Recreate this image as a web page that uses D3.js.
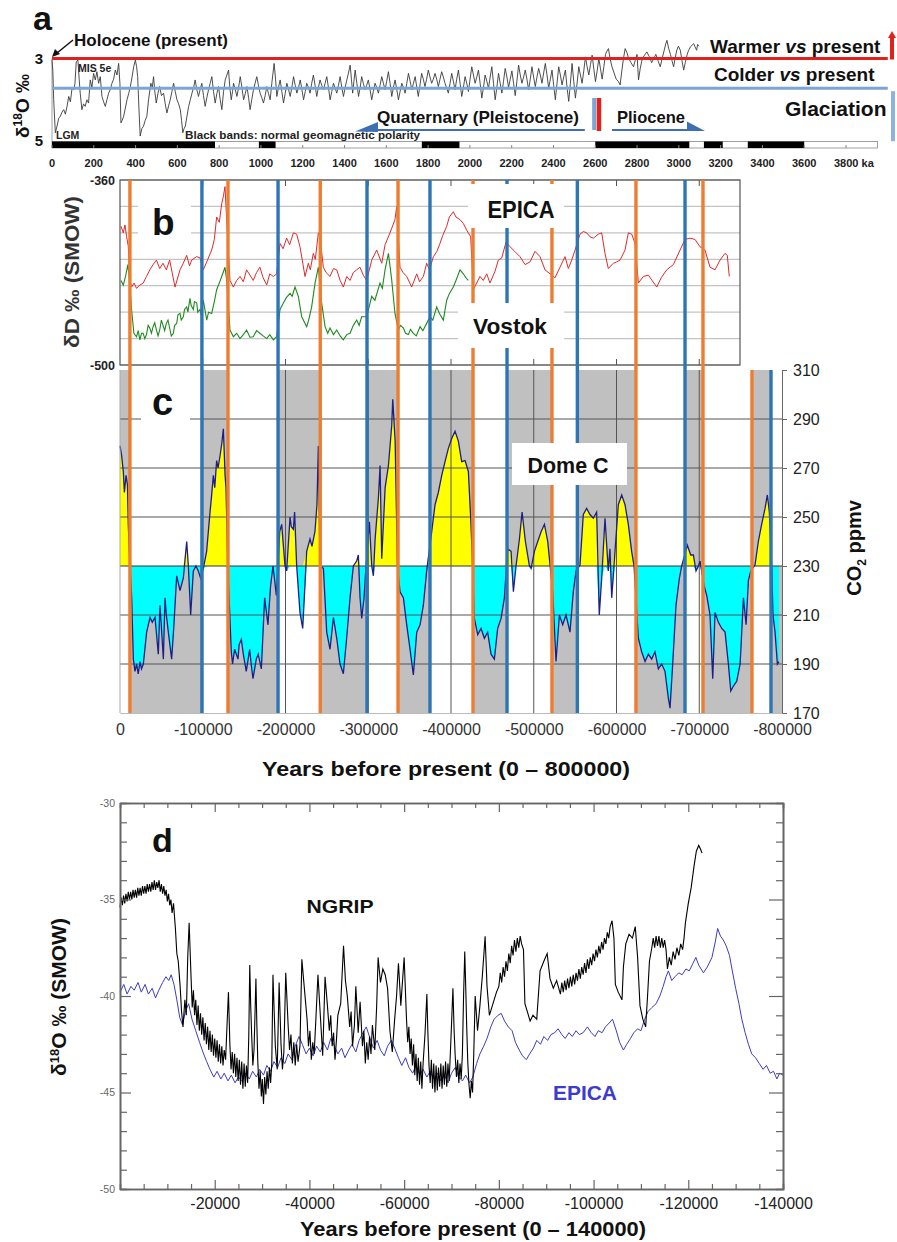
<!DOCTYPE html>
<html><head><meta charset="utf-8">
<script src="https://cdn.jsdelivr.net/npm/d3@7"></script>
<style>
body{margin:0;background:#fff}
svg{display:block}
text{font-family:"Liberation Sans",Arial,sans-serif}
</style>
</head><body>
<svg id="chart" width="897" height="1242"></svg>
<script>
// ================= DATA =================
// Panel a: benthic stack δ18O (ka, ‰)
const lr04 = [[0,3.04],[4,3.3],[8,4.0],[16,4.8],[24,4.64],[32,4.45],[40,4.4],[48,4.3],[56,4.24],[64,4.35],[72,4.16],[80,3.92],[88,4.05],[96,3.72],[104,3.76],[110,3.6],[116,3.08],[124,3.04],[130,3.5],[135,3.84],[143,4.24],[151,4.1],[159,4.16],[167,4.0],[175,4.08],[183,3.52],[191,3.7],[199,3.36],[207,3.52],[215,3.32],[223,3.6],[231,3.44],[239,3.92],[247,4.05],[255,4.16],[263,4.0],[271,3.84],[279,3.75],[287,3.6],[295,3.5],[303,3.28],[311,3.4],[319,3.12],[325,3.6],[330,4.56],[336,4.5],[343,4.4],[351,4.2],[359,4.0],[367,3.85],[375,3.68],[383,3.45],[391,3.2],[399,3.04],[405,3.2],[410,3.44],[416,4.2],[422,4.88],[430,4.7],[438,4.64],[446,4.5],[454,4.4],[462,4.0],[473,3.6],[480,3.7],[486,3.44],[492,3.8],[499,4.08],[507,3.85],[515,3.68],[524,3.9],[534,3.84],[542,4.1],[550,4.32],[558,4.15],[566,4.0],[574,3.8],[582,3.6],[590,3.8],[598,4.0],[606,4.1],[614,4.24],[620,4.5],[626,4.8],[632,4.7],[638,4.64],[646,4.4],[654,4.16],[662,4.0],[670,3.84],[678,3.7],[685,3.52],[693,3.75],[701,3.92],[709,3.75],[717,3.6],[725,3.9],[733,4.16],[741,3.95],[749,3.76],[757,3.6],[765,3.44],[773,3.8],[781,4.08],[789,3.85],[797,3.68],[805,4.0],[813,4.24],[821,3.8],[829,3.52],[837,3.4],[845,3.28],[851,3.7],[858,4.0],[864,3.8],[869,3.6],[877,3.75],[885,3.92],[893,3.7],[901,3.44],[909,3.7],[917,4.0],[925,3.85],[933,3.68],[941,3.95],[948,4.24],[956,4.0],[964,3.76],[972,3.6],[980,3.44],[988,3.65],[996,3.84],[1004,3.95],[1012,4.08],[1020,3.9],[1028,3.68],[1036,3.85],[1044,4.0],[1052,3.6],[1063,3.12],[1070,3.5],[1076,3.92],[1084,3.7],[1092,3.52],[1100,3.8],[1108,4.08],[1116,3.85],[1124,3.6],[1132,3.75],[1140,3.92],[1148,3.7],[1156,3.44],[1164,3.65],[1172,3.84],[1180,3.7],[1188,3.52],[1196,3.75],[1204,4.0],[1212,3.8],[1219,3.6],[1227,3.7],[1235,3.84],[1243,3.6],[1251,3.4],[1259,3.65],[1267,3.92],[1275,3.7],[1283,3.52],[1291,3.65],[1299,3.76],[1307,3.6],[1315,3.44],[1323,3.7],[1331,4.0],[1339,3.8],[1347,3.6],[1355,3.72],[1363,3.84],[1371,3.65],[1379,3.44],[1387,3.7],[1395,3.92],[1403,3.7],[1411,3.52],[1419,3.35],[1427,3.16],[1433,3.5],[1439,3.84],[1445,3.55],[1451,3.28],[1459,3.6],[1467,3.92],[1475,3.7],[1482,3.44],[1490,3.6],[1498,3.76],[1506,3.65],[1514,3.52],[1522,3.75],[1530,4.0],[1538,3.8],[1546,3.6],[1554,3.7],[1562,3.84],[1570,3.65],[1578,3.44],[1586,3.6],[1594,3.76],[1602,3.55],[1610,3.32],[1618,3.6],[1626,3.92],[1634,3.7],[1642,3.52],[1650,3.75],[1658,4.0],[1666,3.8],[1674,3.6],[1682,3.7],[1690,3.84],[1698,3.6],[1706,3.36],[1714,3.55],[1722,3.76],[1730,3.6],[1738,3.44],[1746,3.7],[1753,3.92],[1761,3.65],[1769,3.36],[1777,3.5],[1785,3.68],[1793,3.5],[1801,3.28],[1809,3.45],[1817,3.6],[1825,3.5],[1833,3.36],[1841,3.5],[1849,3.68],[1857,3.5],[1865,3.32],[1873,3.45],[1881,3.6],[1889,3.72],[1897,3.84],[1905,3.6],[1913,3.36],[1921,3.55],[1929,3.76],[1937,3.5],[1945,3.28],[1953,3.6],[1961,3.92],[1969,3.7],[1977,3.44],[1985,3.6],[1993,3.8],[2001,3.5],[2009,3.2],[2017,3.4],[2025,3.6],[2033,3.45],[2041,3.28],[2049,3.6],[2057,3.96],[2065,3.7],[2073,3.4],[2081,3.55],[2089,3.72],[2097,3.45],[2105,3.2],[2113,3.6],[2121,4.0],[2129,3.7],[2137,3.36],[2145,3.6],[2153,3.84],[2161,3.55],[2169,3.24],[2177,3.45],[2185,3.7],[2193,3.5],[2201,3.3],[2209,3.6],[2217,3.9],[2225,3.55],[2233,3.16],[2241,3.4],[2249,3.6],[2257,3.45],[2265,3.28],[2273,3.5],[2281,3.76],[2289,3.5],[2297,3.2],[2305,3.45],[2313,3.68],[2321,3.45],[2329,3.24],[2337,3.4],[2345,3.6],[2353,3.35],[2361,3.12],[2369,3.4],[2377,3.72],[2385,3.5],[2393,3.28],[2401,3.65],[2409,4.0],[2417,3.6],[2425,3.2],[2433,3.4],[2441,3.64],[2449,3.45],[2457,3.28],[2465,3.7],[2473,4.04],[2481,3.6],[2489,3.12],[2497,3.55],[2505,3.96],[2513,3.6],[2521,3.2],[2529,3.4],[2537,3.6],[2545,3.3],[2553,2.96],[2561,3.2],[2569,3.4],[2577,3.15],[2585,2.92],[2593,3.25],[2601,3.56],[2609,3.3],[2617,3.0],[2625,3.25],[2633,3.5],[2641,3.2],[2649,2.9],[2656,2.82],[2663,2.76],[2671,3.0],[2680,3.2],[2690,3.35],[2700,3.5],[2710,3.55],[2719,3.64],[2727,3.3],[2735,3.0],[2743,2.76],[2751,2.85],[2760,3.0],[2771,3.1],[2783,3.2],[2791,3.05],[2800,2.9],[2807,3.52],[2815,3.25],[2825,3.0],[2836,2.92],[2847,2.84],[2858,2.95],[2870,3.1],[2880,3.0],[2890,2.9],[2900,3.05],[2911,3.2],[2920,3.0],[2930,2.8],[2937,2.65],[2943,2.56],[2951,2.75],[2960,2.9],[2967,3.05],[2975,3.2],[2982,3.0],[2990,2.8],[2998,2.7],[3007,2.8],[3015,3.05],[3023,3.28],[3031,3.1],[3040,2.9],[3047,2.8],[3055,2.72],[3063,2.68],[3071,2.64],[3078,2.72],[3085,2.8],[3090,2.66],[3095,2.7]];
const presentLevel = 3.0;       // red line (Holocene)
const glaciationLevel = 3.72;   // blue line
const normalPolarity = [[0,780],[990,1070],[1770,1950],[2600,3050],[3120,3210],[3330,3600]];
const polarityBarEnd = 3950;
const aTicks = [0,200,400,600,800,1000,1200,1400,1600,1800,2000,2200,2400,2600,2800,3000,3200,3400,3600,3800];

// Panel b: δD (ka BP, ‰)
const epicaDD = [[1.2,-395],[4,-400],[6,-394],[8,-403],[10,-410],[12,-436],[14,-441],[17,-438],[20,-442],[24,-439.5],[28,-438],[32,-433],[36,-428],[40,-424],[44,-420.6],[48,-427],[52,-423],[56,-428],[60,-420.6],[63,-430],[66.5,-441],[72.5,-428],[76.5,-423],[80.6,-417],[84,-425],[86.6,-420.6],[92.7,-418],[96.7,-419],[100.7,-428],[104.8,-422],[110.8,-413],[114,-405],[116.8,-388],[120,-392],[122.9,-378],[125,-372],[126.9,-365],[128.9,-390],[132.9,-436],[137,-441],[141,-436],[145,-433],[149,-437],[153,-428],[157,-432],[161,-436],[165,-430],[169,-426],[173,-434],[177.3,-439.5],[181,-431],[185.3,-433],[189.3,-431],[193.4,-408],[197,-412],[201.4,-404],[205,-409],[209.5,-400],[213.5,-401],[217.5,-410.5],[223.6,-433],[227.6,-423],[230,-428],[233.6,-415.5],[236,-420],[239.7,-400],[241.7,-403],[245.7,-426],[249,-430],[253.8,-433],[258,-427],[261.9,-428],[266,-436],[269.9,-441],[274,-433],[278,-436],[282,-430],[286,-428],[290,-426],[294,-432],[298.1,-436],[304.2,-420.6],[310.2,-413],[316.3,-423],[320.3,-409],[326.3,-400],[332.3,-390],[334.4,-380],[336,-400],[338.4,-426],[342,-430],[346.5,-433],[352.5,-441],[358.6,-431],[362,-437],[366.6,-433],[370.6,-423],[374,-428],[378.7,-418],[383,-414],[386.7,-408],[390,-402],[394.8,-395],[398,-388],[402.8,-384],[406,-388],[410.9,-390],[415,-393],[419,-398],[423.8,-403],[427,-443],[431,-438],[435,-433],[439,-436],[443.2,-431],[447.1,-438],[453.2,-429],[457.2,-420.6],[461.3,-419],[466.5,-407],[471.3,-410.5],[477,-414],[483.4,-418],[489.5,-424],[495.5,-422],[501.5,-414],[507.6,-418],[513.6,-428],[519.7,-431],[525.7,-434],[531.7,-426],[537.8,-418],[541.8,-427],[545.9,-420.6],[549.9,-413],[555.9,-401],[560,-399],[564,-400],[568,-403],[572,-404],[578,-401],[582.1,-400],[586.1,-415.5],[590.1,-427],[596.2,-423],[600,-422],[604.3,-420.6],[610.3,-413],[614.3,-400],[618.4,-401],[622.4,-408],[626.4,-438],[632.4,-433],[638.5,-432],[643,-436],[648.6,-441],[654,-434],[660.7,-428],[668.7,-424],[676.8,-413],[682.8,-405],[688.8,-404],[694.9,-405],[700.9,-410.5],[706.9,-413],[713,-426],[719,-428],[725.1,-420.6],[731.1,-415.5],[733.9,-417],[736.3,-433]];
const vostokDD = [[1.2,-436],[4,-439.5],[7,-432],[9.5,-424],[11.5,-436],[14,-458],[16.8,-476],[20,-478.6],[22,-474],[24,-481],[26,-476],[28,-476],[30,-480],[32,-477],[34,-470],[36,-472],[38,-476],[40,-471],[42,-468],[44,-473.5],[46,-478],[48,-473.5],[50,-466],[52,-470],[54,-474],[56,-468.5],[58,-466],[60,-472],[62,-478],[64.5,-476],[66,-470],[68.5,-468.5],[70,-462],[72.5,-461],[74,-466],[76.5,-463.5],[78,-458],[80.6,-456],[82,-460],[84.6,-449.6],[86,-455],[88.6,-458],[90,-452],[92.7,-453],[94,-460],[96.7,-458],[98,-462],[100.7,-451],[104.8,-466],[107,-460],[110.8,-461],[114,-452],[116.8,-443],[120,-438],[122.9,-433],[126.9,-426],[128.9,-436],[132.9,-473.5],[137,-478.6],[141,-476],[145,-480],[149,-477],[153,-473.5],[157,-479],[161,-478.6],[165,-474],[169,-476],[173,-478],[177.3,-480],[181,-477],[185.3,-481],[189.3,-478.6],[193.4,-458],[197.4,-453],[201,-449],[205.5,-445.8],[208,-448],[211.5,-441],[215.5,-448],[219.6,-463.5],[225.6,-471],[228,-466],[231.6,-456],[235.7,-438],[239.7,-426],[243.7,-453],[247.8,-471],[251,-476],[253.8,-472],[258,-477],[261.9,-473.5],[266,-478],[269.9,-481],[274,-477],[278,-476],[282,-470],[286,-466],[289,-470],[292,-463.5],[298.1,-463.5],[304.2,-448],[308,-451],[314.2,-438],[317,-442],[320.3,-428],[324.4,-415.5],[328.4,-436],[332.3,-461],[336.4,-473.5],[339,-470],[342.5,-472],[345,-476],[348.5,-477],[351,-473],[354.5,-476],[358,-478],[362.6,-471],[366,-474],[370.6,-468.5],[374.6,-463.5],[378,-466],[382.7,-456],[386,-461],[390.7,-466],[394.8,-451],[398,-446],[402.8,-441],[406,-436],[410.9,-428],[414.9,-431],[418,-434],[420.9,-436]];

// Panel c: Dome C CO2 (ka BP, ppmv)
const domeCO2 = [[0,279],[2,275],[4,268.5],[5.3,260],[7.3,267],[9,263],[10,247],[11.3,236],[14.1,217],[16.1,192],[18.1,187],[20.1,190],[22,186],[24.2,191],[26,188],[28.2,190],[32.2,203],[36.3,209],[39,207],[42.3,209],[46.3,194],[48.3,214],[50,205],[52.4,192],[54.4,217],[56,210],[58.4,203],[62.4,192],[65,205],[68.5,226],[72.5,220],[76.5,225],[80.6,240],[82.6,230],[85.4,210],[88.6,228],[91.8,230],[94.6,228],[97.4,225],[100.7,229],[104.7,236],[108.8,252],[110.5,258],[112.8,267],[114.5,262],[116.8,273],[118.5,270],[120.9,275],[123,280],[124.9,286],[126,276],[127,267],[128.1,262],[130.5,228],[134.5,195],[136,190],[138.5,196],[142.6,192],[144,198],[146.6,200],[149,194],[152.6,187],[156.7,196],[158.5,190],[160.7,184],[164.7,192],[167,194],[170.8,188],[174.8,217],[178.8,206],[182,222],[184.9,230],[188.9,218],[193,244],[195.4,247],[199.4,230],[201.4,228],[205.5,250],[207,246],[209.5,245],[211,252],[213.5,230],[217.5,211],[220.8,204.5],[225.6,236],[229.6,241],[232,238],[235.6,244],[238,255],[239.7,279],[241.7,230],[245.8,229],[249.8,203],[253.8,196],[257.9,209],[261.9,200.5],[265.9,190],[269.9,186],[273.9,200.5],[278,217],[282,230],[286,232],[288,234.5],[290.1,217],[292.1,208.6],[294.9,217],[297.3,230],[301.4,248],[304.2,230],[306.2,226],[308.3,241],[312.3,258],[314.3,271],[316.3,233],[320.4,262],[324.4,271],[328.4,287.5],[329.6,298],[332.5,281],[335.3,230],[338.4,219.5],[342.5,217],[346.5,206],[350.5,196],[354.5,185.5],[358.6,203],[362.6,206],[366.6,214],[370.6,228],[376.7,244],[380.7,255],[384.7,260],[388.8,267],[392.8,272.6],[396.8,278],[400.9,282],[404.9,285],[408.9,281],[412.9,272.6],[417,273],[421,268.5],[423.8,249.5],[426.2,230],[428.2,208.6],[432.3,202],[436.3,204.5],[440.3,200.5],[444.3,203],[448.4,194],[452.4,192],[456.4,204.5],[460.5,208.6],[464.5,217],[468.5,237],[472.6,236],[475.4,219.5],[478.6,230],[482.7,241],[485.9,252],[489.9,240],[494.8,230],[496.8,229],[500.8,236],[504.8,240],[508.9,244],[512.9,247],[516.9,240],[519.8,230],[522.9,219.5],[526.9,191],[531,210],[535,206],[539,210],[543.8,203],[547.8,219.5],[551.1,228],[555.9,230.4],[559.9,251],[563.9,253.5],[567.9,251],[572,249.5],[576,252],[579.2,210],[582.1,225],[586.1,249.5],[590.1,228],[592.1,237],[594.2,217],[598.2,236],[602.2,255],[606.3,259],[610.3,255],[614.3,247],[618.3,236],[621.2,230],[626.4,200.5],[630.4,195],[634.5,191],[638.5,194],[642.5,192],[646.5,195],[650.6,188],[654.6,190],[658.6,187],[662.7,176],[664.7,172],[667.9,190],[671.9,214],[676,225],[678.8,230],[685.6,238.5],[689.7,234.5],[692.9,234.5],[696.1,228],[699,230],[701,232],[705.8,222],[709,218],[713,210],[716.3,184],[719.1,211],[723.1,207],[727.2,204.5],[731.2,203],[735.2,190],[738.1,179],[741.3,181],[745.3,183],[749.4,190],[753.4,217],[756.6,206],[759.4,224],[762.3,228],[767.4,230.4],[771.4,240],[775.4,247],[779.5,253.5],[782.3,259],[784.7,252],[787.5,230],[789.1,210],[791.6,203],[794.4,190],[796.4,191]];
const co2Threshold = 230;
// vertical markers (ka BP)
const warmOnsets = [12,130.5,242,336,426.6,522,623.5,704.5,763.7];       // orange
const coolOnsets = [99,191,298.5,374.6,467.7,552.7,682.8,786.7];         // blue
const bandEdges = [0,12,99,130.5,191,242,298.5,336,374.6,426.6,467.7,522,552.7,623.5,682.8,704.5,763.7,786.7,800];
const bandGreyHalf = ["upper","lower","upper","lower","upper","lower","upper","lower","upper","lower","upper","lower","upper","lower","upper","lower","upper","lower"];
const cTicks = [0,100,200,300,400,500,600,700,800];
const co2Ticks = [170,190,210,230,250,270,290,310];
const dDGrid = [-500,-480,-460,-440,-420,-400,-380,-360];

// Panel d: δ18O (ka BP, ‰)
const ngrip = [[0,-35.4],[0.25,-34.9],[0.5,-35.3],[0.75,-34.8],[1,-35.2],[1.25,-34.7],[1.5,-35.1],[1.75,-34.6],[2,-35.0],[2.25,-34.6],[2.5,-35.0],[2.75,-34.5],[3,-34.9],[3.25,-34.5],[3.5,-34.9],[3.75,-34.4],[4,-34.8],[4.25,-34.4],[4.5,-34.8],[4.75,-34.3],[5,-34.7],[5.25,-34.3],[5.5,-34.7],[5.75,-34.2],[6,-34.6],[6.25,-34.2],[6.5,-34.6],[6.75,-34.1],[7,-34.5],[7.25,-34.0],[7.5,-34.5],[7.75,-34.1],[8,-34.4],[8.25,-34.0],[8.5,-34.6],[8.75,-34.2],[9,-34.7],[9.25,-34.3],[9.5,-34.8],[9.75,-34.5],[10,-35.1],[10.25,-34.7],[10.5,-35.3],[10.75,-35.0],[11,-35.7],[11.3,-35.2],[11.7,-36.5],[12,-37.8],[12.3,-38.2],[12.7,-39.5],[13,-40.8],[13.3,-41.6],[13.7,-40.2],[14,-41.0],[14.3,-38.0],[14.6,-36.2],[15,-39.0],[15.25,-40.6],[15.5,-39.7],[15.75,-41.0],[16,-40.2],[16.25,-41.5],[16.5,-40.5],[16.75,-41.8],[17,-40.9],[17.25,-42.0],[17.5,-41.1],[17.75,-42.3],[18,-41.4],[18.25,-42.5],[18.5,-41.6],[18.75,-42.8],[19,-41.8],[19.25,-42.9],[19.5,-42.0],[19.75,-43.1],[20,-42.2],[20.25,-43.2],[20.5,-42.3],[20.75,-43.4],[21,-42.5],[21.25,-43.5],[21.5,-42.6],[21.75,-43.6],[22,-42.8],[22.3,-43.3],[22.6,-41.5],[22.9,-39.8],[23.2,-42.5],[23.45,-43.8],[23.7,-42.9],[23.95,-44.0],[24.2,-43.0],[24.45,-44.2],[24.7,-43.2],[24.95,-44.4],[25.2,-43.3],[25.45,-44.6],[25.7,-43.4],[25.95,-44.8],[26.2,-43.5],[26.45,-44.7],[26.7,-43.6],[26.95,-44.5],[27.2,-42.0],[27.4,-38.4],[27.6,-40.5],[27.8,-42.0],[28.05,-43.6],[28.3,-42.8],[28.5,-41.0],[28.7,-39.1],[28.9,-41.5],[29.1,-43.4],[29.35,-44.8],[29.6,-43.9],[29.85,-45.2],[30.05,-44.3],[30.3,-45.6],[30.55,-44.2],[30.8,-45.1],[31.05,-43.9],[31.3,-44.8],[31.55,-43.7],[31.8,-44.5],[32.05,-43.5],[32.3,-38.9],[32.8,-42.6],[33.2,-43.8],[33.6,-39.3],[34,-42.5],[34.3,-43.8],[34.6,-42.9],[35,-38.8],[35.5,-41.5],[35.8,-42.8],[36.1,-42.0],[36.4,-43.5],[36.7,-42.4],[37,-43.6],[37.3,-42.5],[37.6,-43.4],[38,-42.6],[38.4,-38.1],[39,-39.8],[39.5,-41.2],[39.8,-42.6],[40.1,-41.8],[40.4,-43.3],[40.7,-42.4],[41,-43.0],[41.4,-41.0],[41.8,-38.9],[42.3,-41.0],[42.8,-43.1],[43.3,-39.0],[43.8,-40.5],[44.2,-41.8],[44.5,-41.0],[44.8,-42.6],[45.1,-41.9],[45.4,-43.3],[45.7,-42.3],[46,-41.0],[46.6,-40.4],[47.2,-37.4],[47.6,-39.2],[48,-40.0],[48.5,-41.6],[48.8,-40.8],[49.1,-42.6],[49.5,-41.5],[49.8,-39.5],[50.3,-41.9],[50.7,-40.3],[51.2,-42.6],[51.5,-41.8],[51.8,-43.5],[52.1,-42.4],[52.4,-43.3],[52.7,-42.1],[53,-43.0],[53.3,-41.5],[53.8,-42.8],[54.2,-40.5],[54.5,-38.0],[55,-39.3],[55.5,-38.6],[56,-38.9],[56.5,-39.6],[57,-41.8],[57.5,-42.9],[58,-41.2],[58.4,-40.0],[58.8,-38.3],[59.3,-40.5],[60,-38.0],[60.5,-41.2],[60.75,-42.4],[61,-41.6],[61.25,-43.0],[61.5,-42.2],[61.75,-43.6],[62,-42.5],[62.25,-44.1],[62.5,-43.0],[62.75,-44.4],[63,-43.2],[63.25,-44.6],[63.5,-43.4],[63.75,-44.8],[64,-43.5],[64.4,-42.0],[64.8,-39.9],[65,-41.8],[65.25,-43.6],[65.5,-44.5],[65.75,-43.3],[66,-44.8],[66.25,-43.5],[66.5,-45.0],[66.75,-43.6],[67,-44.9],[67.25,-43.7],[67.5,-44.7],[67.75,-43.5],[68,-44.8],[68.25,-43.6],[68.5,-44.6],[68.75,-43.4],[69,-44.7],[69.25,-43.5],[69.5,-44.4],[69.75,-43.0],[70,-41.5],[70.3,-39.6],[70.55,-41.8],[70.8,-43.2],[71.05,-44.2],[71.3,-43.3],[71.55,-44.5],[71.8,-43.5],[72.05,-44.3],[72.3,-43.0],[72.55,-40.0],[72.8,-37.7],[73,-39.5],[73.2,-41.5],[73.45,-43.5],[73.7,-44.6],[73.95,-45.3],[74.2,-44.4],[74.45,-45.0],[74.7,-43.0],[75,-40.0],[75.5,-41.8],[76,-40.5],[76.5,-39.0],[77.1,-36.9],[77.5,-39.5],[78,-41.0],[78.5,-40.6],[79,-40.2],[79.5,-39.8],[80,-39.5],[80.3,-38.8],[80.6,-39.3],[80.9,-38.5],[81.2,-39.0],[81.5,-38.2],[81.8,-38.7],[82.1,-37.8],[82.4,-38.3],[82.7,-37.4],[83,-37.9],[83.3,-37.1],[83.6,-37.7],[83.9,-37.0],[84.2,-37.5],[84.5,-36.9],[84.8,-37.3],[85.2,-37.6],[85.5,-40.4],[86,-40.8],[86.6,-41.3],[87.2,-41.0],[88,-41.2],[88.7,-38.7],[89.5,-38.2],[90.2,-37.8],[90.8,-39.1],[91.5,-39.6],[92.2,-39.2],[93,-39.9],[93.3,-39.3],[93.6,-39.8],[93.9,-39.2],[94.2,-39.7],[94.5,-39.1],[94.8,-39.6],[95.1,-39.0],[95.4,-39.5],[95.7,-38.9],[96,-39.4],[96.3,-38.8],[96.6,-39.2],[96.9,-38.6],[97.2,-39.1],[97.5,-38.5],[97.8,-38.9],[98.1,-38.3],[98.4,-38.8],[98.7,-38.1],[99,-38.6],[99.3,-38.0],[99.6,-38.4],[99.9,-37.8],[100.2,-38.2],[100.5,-37.6],[100.8,-38.0],[101.1,-37.4],[101.4,-37.8],[101.7,-37.2],[102,-37.6],[102.3,-37.0],[102.6,-37.3],[102.9,-36.7],[103.2,-37.0],[103.5,-36.4],[103.9,-36.1],[104.3,-37.0],[104.6,-39.4],[105.2,-39.8],[106,-40.2],[106.3,-38.5],[106.8,-37.3],[107.5,-36.8],[108.2,-37.0],[108.8,-36.4],[109.3,-38.0],[109.8,-40.5],[110.4,-41.2],[111,-41.6],[111.4,-40.0],[111.8,-38.2],[112.3,-37.5],[112.6,-37.0],[112.9,-37.5],[113.2,-36.9],[113.5,-37.4],[113.8,-36.9],[114.1,-37.5],[114.4,-37.0],[114.7,-37.5],[115,-37.1],[115.3,-37.6],[115.6,-38.6],[116,-38.0],[116.4,-38.4],[116.8,-37.7],[117.2,-38.1],[117.6,-37.5],[118,-37.9],[118.4,-37.3],[118.8,-37.6],[119.1,-37.0],[119.4,-36.2],[120,-35.2],[120.6,-34.4],[121.2,-33.3],[121.7,-32.5],[122.2,-32.2],[122.6,-32.4],[122.9,-32.6]];
const epicaD18O = [[0,-39.8],[0.8,-39.4],[1.5,-39.9],[2.3,-39.5],[3,-39.7],[3.8,-39.3],[4.5,-39.8],[5.3,-39.4],[6,-39.9],[6.8,-39.6],[7.5,-40.1],[8.2,-39.7],[9,-39.3],[9.7,-39.0],[10.3,-39.2],[10.8,-38.9],[11.4,-39.4],[12,-40.2],[12.6,-41.1],[13.2,-41.5],[13.8,-40.8],[14.5,-40.4],[15.2,-41.2],[16,-41.8],[16.8,-42.4],[17.5,-42.9],[18.3,-43.4],[19,-43.8],[19.8,-44.2],[20.5,-43.9],[21.3,-44.3],[22,-44.0],[22.8,-44.4],[23.5,-44.1],[24.3,-44.5],[25,-44.2],[25.8,-44.4],[26.5,-44.0],[27.3,-44.3],[28,-43.9],[28.8,-44.2],[29.5,-43.8],[30.3,-44.1],[31,-43.6],[31.8,-43.9],[32.5,-43.4],[33.3,-43.7],[34,-43.2],[34.8,-43.5],[35.5,-43.0],[36.3,-43.3],[37,-42.6],[37.8,-42.1],[38.5,-42.5],[39.3,-43.0],[40,-42.7],[40.8,-43.1],[41.5,-42.6],[42.3,-42.9],[43,-42.4],[43.8,-42.8],[44.5,-42.2],[45.3,-42.6],[46,-43.0],[46.8,-42.7],[47.5,-43.2],[48.3,-42.8],[49,-42.5],[49.8,-42.9],[50.5,-42.3],[51.3,-41.9],[52,-41.6],[52.8,-42.2],[53.5,-42.7],[54.3,-42.3],[55,-42.8],[55.8,-43.1],[56.5,-42.6],[57.3,-42.3],[58,-42.7],[58.8,-43.2],[59.5,-43.6],[60.3,-43.2],[61,-43.7],[61.8,-44.0],[62.5,-43.6],[63.3,-44.1],[64,-43.8],[64.8,-44.2],[65.5,-43.9],[66.3,-44.3],[67,-44.0],[67.8,-44.4],[68.5,-44.1],[69.3,-44.5],[70,-44.0],[70.8,-43.7],[71.5,-44.2],[72.3,-44.4],[73,-44.1],[73.8,-44.5],[74.5,-44.2],[75.3,-43.5],[76,-43.0],[76.8,-42.6],[77.5,-42.2],[78.3,-41.6],[79,-41.2],[79.8,-41.0],[80.5,-40.9],[81.2,-41.3],[82,-41.6],[82.8,-41.8],[83.5,-42.4],[84.3,-42.8],[85,-43.1],[85.8,-43.3],[86.5,-43.0],[87.3,-42.7],[88,-42.3],[88.8,-42.5],[89.5,-42.1],[90.3,-42.3],[91,-42.0],[91.8,-41.9],[92.5,-41.7],[93.3,-42.0],[94,-42.2],[94.8,-41.9],[95.5,-42.1],[96.3,-41.8],[97,-42.0],[97.8,-41.9],[98.7,-41.6],[99.5,-41.9],[100.3,-42.1],[101,-41.8],[101.8,-41.9],[102.5,-41.6],[103.3,-41.4],[104,-41.2],[104.8,-41.8],[105.5,-42.4],[106.3,-42.8],[107,-42.5],[107.8,-42.2],[108.5,-41.9],[109.3,-41.7],[110,-41.8],[110.8,-41.2],[111.5,-40.8],[112.3,-40.6],[113.2,-40.4],[114,-40.0],[114.7,-39.5],[115.3,-39.0],[115.8,-38.7],[116.5,-39.2],[117.2,-39.0],[118,-38.8],[118.7,-38.9],[119.5,-38.6],[120.2,-38.7],[121,-38.3],[121.6,-38.0],[122.2,-38.4],[123.2,-38.8],[124,-38.5],[125,-38.0],[125.7,-37.2],[126.2,-36.5],[126.8,-36.9],[127.4,-37.1],[128,-37.4],[128.7,-37.9],[129.3,-38.7],[130,-39.6],[130.7,-40.4],[131.3,-41.2],[132,-41.9],[132.7,-42.5],[133.4,-43.0],[134.2,-43.2],[135,-43.5],[135.8,-43.8],[136.5,-43.6],[137.3,-44.0],[138,-43.9],[138.7,-44.3],[139.3,-44.0],[140,-44.1]];
const dMajorX = [20,40,60,80,100,120,140];
const dMinorX = [5,10,15,25,30,35,45,50,55,65,70,75,85,90,95,105,110,115,125,130,135];
const dMajorY = [-50,-45,-40,-35,-30];
const dMinorY = [-49,-48,-47,-46,-44,-43,-42,-41,-39,-38,-37,-36,-34,-33,-32,-31];

// ================= DRAWING =================
const svg = d3.select("#chart");
const FONT = '"Liberation Sans",Arial,sans-serif';
function txt(g, x, y, s, o) {
  o = o || {};
  const t = g.append("text").attr("x", x).attr("y", y).text(s)
    .attr("font-size", o.size || 12).attr("font-weight", o.weight || "bold")
    .attr("fill", o.fill || "#111").attr("text-anchor", o.anchor || "start");
  if (o.len) t.attr("textLength", o.len).attr("lengthAdjust", "spacingAndGlyphs");
  return t;
}

// ---------- Panel a ----------
const xA = d3.scaleLinear().domain([0,3800]).range([52,846]);
const yA = d3.scaleLinear().domain([3,5]).range([58.5,141]);
const gA = svg.append("g");
gA.append("line").attr("x1",xA(0)).attr("x2",xA(0)).attr("y1",yA(3)).attr("y2",yA(5)).attr("stroke","#888").attr("stroke-width",0.8);
gA.append("path").datum(lr04)
  .attr("d", d3.line().x(d=>xA(d[0])).y(d=>yA(d[1])))
  .attr("fill","none").attr("stroke","#3a3a3a").attr("stroke-width",0.9);
gA.append("line").attr("x1",xA(0)).attr("x2",xA(4000)).attr("y1",yA(presentLevel)).attr("y2",yA(presentLevel))
  .attr("stroke","#e3211c").attr("stroke-width",3);
gA.append("line").attr("x1",xA(0)).attr("x2",xA(4000)).attr("y1",yA(glaciationLevel)).attr("y2",yA(glaciationLevel))
  .attr("stroke","#7ba5d6").attr("stroke-width",3);
gA.append("rect").attr("x",890).attr("y",36).attr("width",4).attr("height",yA(presentLevel)-36+1).attr("fill","#e3211c");
gA.append("path").attr("d","M888,38 L892,31 L896,38 Z").attr("fill","#e3211c");
gA.append("rect").attr("x",891).attr("y",yA(glaciationLevel)+3).attr("width",4).attr("height",50).attr("fill","#8db2e0");
const barY = yA(5)+0.5, barH = 6.5;
gA.append("rect").attr("x",xA(0)).attr("y",barY).attr("width",xA(polarityBarEnd)-xA(0)).attr("height",barH)
  .attr("fill","#fff").attr("stroke","#777").attr("stroke-width",0.7);
gA.selectAll("rect.pol").data(normalPolarity).enter().append("rect").attr("class","pol")
  .attr("x",d=>xA(d[0])).attr("width",d=>xA(d[1])-xA(d[0])).attr("y",barY).attr("height",barH).attr("fill","#000");
gA.selectAll("line.bt").data(aTicks).enter().append("line").attr("class","bt")
  .attr("x1",d=>xA(d)).attr("x2",d=>xA(d)).attr("y1",barY+barH-3).attr("y2",barY+barH).attr("stroke","#888");
gA.selectAll("text.at").data(aTicks).enter().append("text").attr("class","at")
  .attr("x",d=>d===3800?xA(d)-12:xA(d)).attr("y",167)
  .attr("text-anchor",d=>d===3800?"start":"middle")
  .attr("font-size",11).attr("font-weight","bold").attr("fill","#222")
  .text(d=>d===3800?"3800 ka":d);
txt(gA, 39, yA(3)+5.5, "3", {size:15, anchor:"middle"});
txt(gA, 39, yA(5)+5, "5", {size:15, anchor:"middle"});
const yl = gA.append("text").attr("transform","translate(29,106) rotate(-90)").attr("text-anchor","middle")
  .attr("font-size",19).attr("font-weight","bold").attr("fill","#111");
yl.append("tspan").text("δ");
yl.append("tspan").text("18").attr("font-size",12).attr("dy",-7);
yl.append("tspan").text("O ‰").attr("dy",7);
txt(gA, 33, 30, "a", {size:34});
txt(gA, 74, 46, "Holocene (present)", {size:17});
gA.append("line").attr("x1",73).attr("y1",40).attr("x2",57).attr("y2",53).attr("stroke","#111").attr("stroke-width",1.5);
gA.append("path").attr("d","M52,57 L55,49 L60,54 Z").attr("fill","#111");
txt(gA, 78, 72, "MIS 5e", {size:10.5, fill:"#222"});
txt(gA, 56, 139, "LGM", {size:10.5, fill:"#222"});
txt(gA, 185, 139, "Black bands: normal geomagnetic polarity", {size:10.5, fill:"#222", len:235});
const wv = txt(gA, 710, 53, "", {size:19});
wv.append("tspan").text("Warmer ");
wv.append("tspan").text("vs").attr("font-style","italic");
wv.append("tspan").text(" present");
const cv = txt(gA, 714, 81, "", {size:19});
cv.append("tspan").text("Colder ");
cv.append("tspan").text("vs").attr("font-style","italic");
cv.append("tspan").text(" present");
txt(gA, 785, 116, "Glaciation", {size:21});
txt(gA, 377, 123, "Quaternary (Pleistocene)", {size:17, len:202});
txt(gA, 617, 123, "Pliocene", {size:17, len:68});
gA.append("line").attr("x1",376).attr("x2",xA(2550)).attr("y1",130).attr("y2",130).attr("stroke","#3e6fb3").attr("stroke-width",2);
gA.append("path").attr("d","M355,131.5 L378,122 L378,132 Z").attr("fill","#3e6fb3");
gA.append("line").attr("x1",xA(2680)).attr("x2",690).attr("y1",130).attr("y2",130).attr("stroke","#3e6fb3").attr("stroke-width",2);
gA.append("path").attr("d","M687,121.5 L705,131 L687,131 Z").attr("fill","#3e6fb3");
gA.append("rect").attr("x",xA(2590)-1).attr("y",98).attr("width",4).attr("height",32).attr("fill","#7ba5d6");
gA.append("rect").attr("x",xA(2590)+3.5).attr("y",98).attr("width",4.5).attr("height",33).attr("fill","#e3211c");

// ---------- Shared time scale for b & c ----------
const xT = d3.scaleLinear().domain([0,800]).range([120,782]);

// ---------- Panel b ----------
const yB = d3.scaleLinear().domain([-500,-360]).range([365,180]);
const bRight = 740;
const gB = svg.append("g");
gB.selectAll("line.gb").data(dDGrid).enter().append("line").attr("class","gb")
  .attr("x1",xT(0)).attr("x2",bRight).attr("y1",d=>yB(d)).attr("y2",d=>yB(d))
  .attr("stroke","#c4c4c4").attr("stroke-width",1.3);
gB.append("rect").attr("x",138).attr("y",194).attr("width",53).attr("height",54).attr("fill","#fff");
txt(gB, 152, 235, "b", {size:37});
const lineB = d3.line().x(d=>xT(d[0])).y(d=>yB(d[1]));
gB.append("path").datum(epicaDD).attr("d",lineB).attr("fill","none").attr("stroke","#e02a2a").attr("stroke-width",1);
gB.append("path").datum(vostokDD).attr("d",lineB).attr("fill","none").attr("stroke","#1f8a1f").attr("stroke-width",1.1);
gB.append("rect").attr("x",xT(0)).attr("y",yB(-360)).attr("width",bRight-xT(0)).attr("height",yB(-500)-yB(-360))
  .attr("fill","none").attr("stroke","#555").attr("stroke-width",1.2);
gB.selectAll("line.bt1").data(cTicks.filter(d=>xT(d)<bRight && d>0)).enter().append("line").attr("class","bt1")
  .attr("x1",d=>xT(d)).attr("x2",d=>xT(d)).attr("y1",yB(-360)).attr("y2",yB(-360)+6).attr("stroke","#555");
gB.selectAll("line.bt2").data(cTicks.filter(d=>xT(d)<bRight && d>0)).enter().append("line").attr("class","bt2")
  .attr("x1",d=>xT(d)).attr("x2",d=>xT(d)).attr("y1",yB(-500)-6).attr("y2",yB(-500)).attr("stroke","#555");
txt(gB, 115, yB(-360)+4.5, "-360", {size:12.5, anchor:"end", fill:"#222"});
txt(gB, 115, yB(-500)+4.5, "-500", {size:12.5, anchor:"end", fill:"#222"});
txt(gB, 0, 0, "δD ‰ (SMOW)", {size:20, anchor:"middle", fill:"#333", len:152}).attr("transform","translate(79,272) rotate(-90)");

// ---------- Panel c ----------
const yC = d3.scaleLinear().domain([170,310]).range([713,370]);
const gC = svg.append("g");
const bands = bandGreyHalf.map((h,i)=>({a:bandEdges[i], b:bandEdges[i+1], h:h}));
gC.selectAll("rect.band").data(bands).enter().append("rect").attr("class","band")
  .attr("x",d=>xT(d.a)).attr("width",d=>xT(d.b)-xT(d.a))
  .attr("y",d=>d.h==="upper"?yC(310):yC(co2Threshold))
  .attr("height",d=>d.h==="upper"?yC(co2Threshold)-yC(310):yC(170)-yC(co2Threshold))
  .attr("fill","#c0c0c0");
gC.append("path").datum(domeCO2)
  .attr("d", d3.area().x(d=>xT(d[0])).y0(yC(co2Threshold)).y1(d=>yC(Math.max(d[1],co2Threshold))))
  .attr("fill","#ffff00");
gC.append("path").datum(domeCO2)
  .attr("d", d3.area().x(d=>xT(d[0])).y0(yC(co2Threshold)).y1(d=>yC(Math.min(d[1],co2Threshold))))
  .attr("fill","#00ffff");
gC.selectAll("line.gh").data(co2Ticks.filter(d=>d>170&&d<310)).enter().append("line").attr("class","gh")
  .attr("x1",xT(0)).attr("x2",xT(800)).attr("y1",d=>yC(d)).attr("y2",d=>yC(d))
  .attr("stroke",d=>d===co2Threshold?"#333":"#555").attr("stroke-width",1);
gC.selectAll("line.gv").data(cTicks.filter(d=>d>0&&d<800)).enter().append("line").attr("class","gv")
  .attr("x1",d=>xT(d)).attr("x2",d=>xT(d)).attr("y1",yC(310)).attr("y2",yC(170))
  .attr("stroke","#555").attr("stroke-width",1);
gC.append("path").datum(domeCO2).attr("d", d3.line().x(d=>xT(d[0])).y(d=>yC(d[1])))
  .attr("fill","none").attr("stroke","#1e1e86").attr("stroke-width",1.3);
gC.append("line").attr("x1",xT(0)).attr("x2",xT(0)).attr("y1",yC(310)).attr("y2",yC(170)).attr("stroke","#aaa");
gC.append("rect").attr("x",141).attr("y",372).attr("width",49).attr("height",52).attr("fill","#fff");
txt(gC, 152, 415, "c", {size:38});
const axR = gC.append("g").attr("transform",`translate(${xT(800)},0)`)
  .call(d3.axisRight(yC).tickValues(co2Ticks).tickSize(5).tickPadding(6).tickFormat(d=>d));
axR.select(".domain").attr("stroke","#666");
axR.selectAll("line").attr("stroke","#666");
axR.selectAll("text").attr("font-size",16).attr("fill","#222").attr("font-family",FONT);
const axB = gC.append("g").attr("transform",`translate(0,${yC(170)})`)
  .call(d3.axisBottom(xT).tickValues(cTicks).tickSize(0).tickPadding(11).tickFormat(d=>d===0?"0":"-"+(d*1000)));
axB.select(".domain").attr("stroke","#bbb");
axB.selectAll("text").attr("font-size",16).attr("fill","#333").attr("font-family",FONT);
const co2Lab = gC.append("text").attr("transform","translate(861,548) rotate(-90)").attr("text-anchor","middle")
  .attr("font-size",20).attr("font-weight","bold").attr("fill","#111");
co2Lab.append("tspan").text("CO");
co2Lab.append("tspan").text("2").attr("font-size",12).attr("dy",5);
co2Lab.append("tspan").text(" ppmv").attr("dy",-5);
txt(gC, 446, 776, "Years before present (0 – 800000)", {size:19.5, anchor:"middle", len:368});

// ---------- Vertical event lines (b + c) ----------
const gL = svg.append("g");
function vlines(data, color) {
  gL.selectAll(null).data(data).enter().append("line")
    .attr("x1",d=>xT(d)).attr("x2",d=>xT(d))
    .attr("y1",d=>xT(d)<bRight?yB(-360):yC(310)).attr("y2",yC(170))
    .attr("stroke",color).attr("stroke-width",3.4);
}
vlines(warmOnsets, "#ed7d31");
vlines(coolOnsets, "#2e75b6");
gL.append("rect").attr("x",468).attr("y",184).attr("width",96).attr("height",44).attr("fill","#fff");
txt(gL, 521, 218, "EPICA", {size:23, anchor:"middle", len:67});
gL.append("rect").attr("x",458).attr("y",303).attr("width",106).attr("height",45).attr("fill","#fff");
txt(gL, 510, 334, "Vostok", {size:22, anchor:"middle", len:74});
gL.append("rect").attr("x",512).attr("y",443).attr("width",115).attr("height",42).attr("fill","#fff");
txt(gL, 568, 473, "Dome C", {size:22, anchor:"middle", len:81});

// ---------- Panel d ----------
const xD = d3.scaleLinear().domain([0,140]).range([120,783]);
const yD = d3.scaleLinear().domain([-50,-30]).range([1189,803]);
const gD = svg.append("g");
const lineD = d3.line().x(d=>xD(d[0])).y(d=>yD(d[1]));
gD.append("path").datum(epicaD18O).attr("d",lineD).attr("fill","none").attr("stroke","#3d3dbf").attr("stroke-width",1);
gD.append("path").datum(ngrip).attr("d",lineD).attr("fill","none").attr("stroke","#000").attr("stroke-width",1.1);
function styleAx(g){ g.select(".domain").attr("stroke","#666").attr("stroke-width",1.6); g.selectAll(".tick line").attr("stroke","#666").attr("stroke-width",1.2); }
gD.append("g").attr("transform",`translate(0,${yD(-50)})`)
  .call(d3.axisBottom(xD).tickValues(dMinorX).tickSize(-5).tickFormat("")).call(styleAx);
const dxb = gD.append("g").attr("transform",`translate(0,${yD(-50)})`)
  .call(d3.axisBottom(xD).tickValues(dMajorX).tickSizeInner(-9).tickSizeOuter(0).tickPadding(9).tickFormat(d=>"-"+(d*1000))).call(styleAx);
dxb.selectAll("text").attr("font-size",16).attr("fill","#222").attr("font-family",FONT);
gD.append("g").attr("transform",`translate(0,${yD(-30)})`)
  .call(d3.axisTop(xD).tickValues(dMinorX).tickSize(-5).tickFormat("")).call(styleAx);
gD.append("g").attr("transform",`translate(0,${yD(-30)})`)
  .call(d3.axisTop(xD).tickValues(dMajorX).tickSizeInner(-9).tickSizeOuter(0).tickFormat("")).call(styleAx);
gD.append("g").attr("transform",`translate(${xD(0)},0)`)
  .call(d3.axisLeft(yD).tickValues(dMinorY).tickSize(-7).tickFormat("")).call(styleAx);
const dyl = gD.append("g").attr("transform",`translate(${xD(0)},0)`)
  .call(d3.axisLeft(yD).tickValues(dMajorY).tickSizeInner(-11).tickSizeOuter(0).tickPadding(5).tickFormat(d=>"-"+Math.abs(d))).call(styleAx);
dyl.selectAll("text").attr("font-size",10.5).attr("fill","#666").attr("font-family",FONT);
gD.append("g").attr("transform",`translate(${xD(140)},0)`)
  .call(d3.axisRight(yD).tickValues(dMinorY).tickSize(-7).tickFormat("")).call(styleAx);
gD.append("g").attr("transform",`translate(${xD(140)},0)`)
  .call(d3.axisRight(yD).tickValues(dMajorY).tickSizeInner(-14).tickSizeOuter(0).tickFormat("")).call(styleAx);
txt(gD, 152, 852, "d", {size:34});
txt(gD, 340, 913, "NGRIP", {size:19, anchor:"middle", len:67});
txt(gD, 585, 1100, "EPICA", {size:21, anchor:"middle", fill:"#3b3bcf", len:64});
const dyLab = gD.append("text").attr("transform","translate(66,997) rotate(-90)").attr("text-anchor","middle")
  .attr("font-size",21).attr("font-weight","bold").attr("fill","#111");
dyLab.append("tspan").text("δ");
dyLab.append("tspan").text("18").attr("font-size",13).attr("dy",-7);
dyLab.append("tspan").text("O ‰ (SMOW)").attr("dy",7);
txt(gD, 473, 1236, "Years before present (0 – 140000)", {size:21, anchor:"middle", len:346});
</script>
</body></html>
